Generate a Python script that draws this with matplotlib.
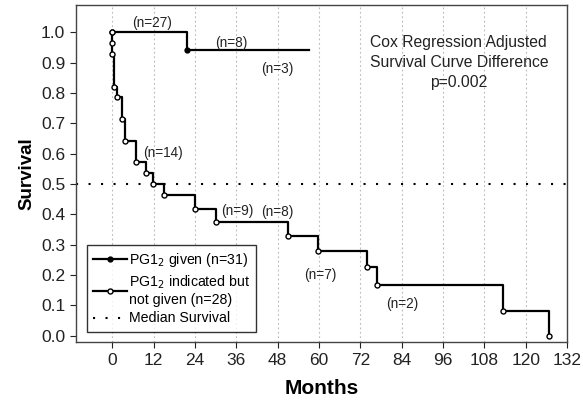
import numpy as np
import matplotlib.pyplot as plt

plt.rcParams["font.family"] = ["Liberation Sans", "DejaVu Sans"]

# PG1_2 given (n=31)
given_t = [0, 21.8, 57]
given_s = [1.0, 0.94, 0.94]

# PG1_2 indicated but not given (n=28), event times and survival after each step
notgiven_t = [0, 0, 0, 0.5, 1.5, 2.8, 3.7, 6.8, 9.8, 11.8, 14.9,
              24.1, 30.1, 51.0, 59.8, 73.8, 76.9, 113.3, 126.7]
notgiven_s = [1.0, 0.964, 0.929, 0.821, 0.786, 0.714, 0.643, 0.571, 0.536,
              0.5, 0.464, 0.417, 0.376, 0.329, 0.280, 0.225, 0.167, 0.082, 0.0]

# at-risk labels
n_labels = ["(n=27)", "(n=8)", "(n=3)", "(n=14)", "(n=9)", "(n=8)", "(n=7)", "(n=2)"]
n_x = [11.5, 34.5, 48, 14.7, 36.2, 48, 60.4, 84.2]
n_y = [1.03, 0.964, 0.878, 0.601, 0.412, 0.409, 0.20, 0.104]

xticks = np.arange(0, 133, 12)
yticks = np.round(np.arange(0, 1.01, 0.1), 1)

fig = plt.figure(figsize=(5.83, 4.03), dpi=100)
ax = fig.add_axes([0.130, 0.1506, 0.8426, 0.837])

# grid and median line
for xt in xticks[:-1]:
    ax.axvline(xt, color="#b8b8b8", linestyle=(0, (1.5, 2.5)), linewidth=0.8, zorder=0)
ax.axhline(0.5, color="black", linestyle=(0, (1, 5)), linewidth=1.5, zorder=1)

ax.step(given_t, given_s, where="post", color="black", linewidth=1.6, zorder=3)
ax.plot(given_t[:2], given_s[:2], linestyle="none", marker="o", markersize=3.5,
        color="black", zorder=4)
ax.step(notgiven_t, notgiven_s, where="post", color="black", linewidth=1.6, zorder=3)
ax.plot(notgiven_t, notgiven_s, linestyle="none", marker="o", markersize=3.6,
        markerfacecolor="white", markeredgecolor="black", markeredgewidth=1.0, zorder=5)

for lab, x, y in zip(n_labels, n_x, n_y):
    ax.text(x, y, lab, fontsize=9.8, ha="center", va="center", color="#222222")

ax.text(100.6, 0.90, "Cox Regression Adjusted\nSurvival Curve Difference\np=0.002",
        fontsize=11.3, ha="center", va="center", color="#222222", linespacing=1.4)

# legend
h1, = ax.plot([], [], color="black", linewidth=1.6, marker="o", markersize=3.5)
h2, = ax.plot([], [], color="black", linewidth=1.6, marker="o", markersize=3.6,
              markerfacecolor="white", markeredgewidth=1.0)
h3, = ax.plot([], [], color="black", linestyle=(0, (1, 5)), linewidth=1.5)
leg = ax.legend([h1, h2, h3],
                ["PG1$_2$ given (n=31)", "PG1$_2$ indicated but\nnot given (n=28)",
                 "Median Survival"],
                loc="lower left", bbox_to_anchor=(0.0224, 0.031), fontsize=10.2,
                frameon=True, fancybox=False, edgecolor="black", handlelength=2.4,
                handletextpad=0.1, borderpad=0.45, borderaxespad=0, labelspacing=0.3)
leg.get_frame().set_linewidth(1.0)

ax.set_xlim(-10.6, 132)
ax.set_ylim(-0.022, 1.09)
ax.set_xticks(xticks)
ax.set_yticks(yticks)
ax.set_yticklabels([f"{v:.1f}" for v in yticks])
ax.tick_params(direction="out", length=4, labelsize=12.5, colors="#222222")
for sp in ax.spines.values():
    sp.set_color("#444444")
    sp.set_linewidth(1.0)

ax.set_xlabel("Months", fontsize=15, fontweight="bold", labelpad=8)
ax.set_ylabel("Survival", fontsize=13.5, fontweight="bold", labelpad=4)

fig.savefig("out.png", dpi=100)
